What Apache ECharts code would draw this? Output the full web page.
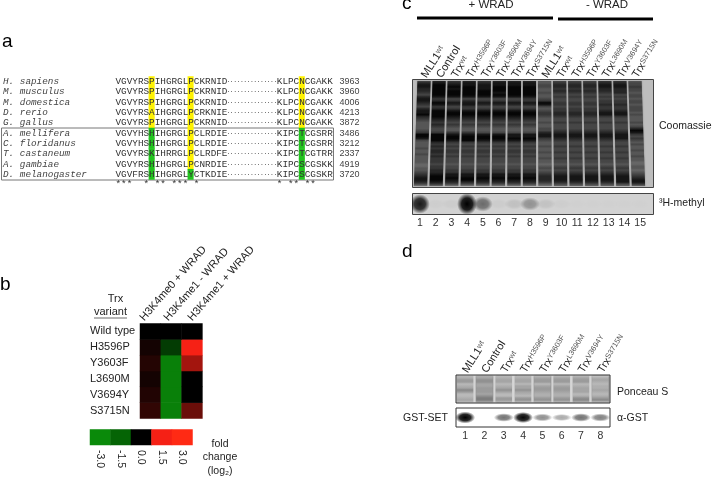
<!DOCTYPE html>
<html>
<head>
<meta charset="utf-8">
<title>Trx variants</title>
<style>
  html, body { margin: 0; padding: 0; background: #fff; }
  #chart { width: 713px; height: 477px; }
</style>
<script src="https://cdn.jsdelivr.net/npm/echarts@6/dist/echarts.min.js"></script>
</head>
<body>
<div id="chart"></div>
<script>
// --- panel a: alignment ---
const species = ['H. sapiens', 'M. musculus', 'M. domestica', 'D. rerio', 'G. gallus',
  'A. mellifera', 'C. floridanus', 'T. castaneum', 'A. gambiae', 'D. melanogaster', '']
const residueEnds = ['3963', '3960', '4006', '4213', '3872', '3486', '3212', '2337', '4919', '3720', '']
const seqLeft = ['VGVYRSPIHGRGLPCKRNID', 'VGVYRSPIHGRGLPCKRNID', 'VGVYRSPIHGRGLPCKRNID', 'VGVYRSAIHGRGLPCRKNIE',
  'VGVYRSPIHGRGLPCKRNID', 'VGVYHSHIHGRGLPCLRDIE', 'VGVYHSHIHGRGLPCLRDIE', 'VGVYRSKIHRRGLPCLRDFE',
  'VGVYRSHIHGRGLPCNRDIE', 'VGVFRSHIHGRGLYCTKDIE', '***  * ** *** *']
const seqRight = ['KLPCNCGAKK', 'KLPCNCGAKK', 'KLPCNCGAKK', 'KLPCNCGAKK', 'KLPCNCGAKK',
  'KIPCTCGSRR', 'KIPCTCGSRR', 'KIPCTCGTRR', 'KIPCSCGSKK', 'KIPCSCGSKR', '* ** **']
const alignColumns = Array.from({ length: 39 }, (_, i) => String(i))
// column, first row, last row, colour kind (1 yellow, 2 green)
const highlightRuns = [[6, 0, 4, 1], [6, 5, 9, 2], [13, 0, 8, 1], [13, 9, 9, 2], [33, 0, 4, 1], [33, 5, 9, 2]]

// --- panel b: heatmap ---
const variants = ['S3715N', 'V3694Y', 'L3690M', 'Y3603F', 'H3596P', 'Wild type']
const conditions = ['H3K4me0 + WRAD', 'H3K4me1 - WRAD', 'H3K4me1 + WRAD']
const me0Plus = [0.3, 0.2, 0.12, 0.22, 0.12, 0]
const me1Minus = [-2.6, -2.6, -2.6, -2.6, -0.9, 0]
const me1Plus = [0.65, 0, 0, 1.0, 1.6, 0]
const scaleTicks = ['-3.0', '-1.5', '0.0', '1.5', '3.0']
const scaleValues = [-3, -1.5, 0, 1.5, 3]

// --- panel c: gel ---
const gelLanes = ['MLL1|wt', 'Control|', 'Trx|wt', 'Trx|H3596P', 'Trx|Y3603F', 'Trx|L3690M', 'Trx|V3694Y', 'Trx|S3715N',
  'MLL1|wt', 'Trx|wt', 'Trx|H3596P', 'Trx|Y3603F', 'Trx|L3690M', 'Trx|V3694Y', 'Trx|S3715N']
const gelNumbers = ['1', '2', '3', '4', '5', '6', '7', '8', '9', '10', '11', '12', '13', '14', '15']
// darkness 0-9 from the top of the gel to the bottom, one string per lane
const coomassie = [
  '5788776578 8765788976 5444456998 5444544544 4433445678 8752',
  '7899999986 7986799998 7676556999 9767677676 6656677899 9863',
  '6789899985 6875689987 6565446899 8656566565 5545566889 8752',
  '7889999985 7886689987 6565446899 9656566565 5545566889 9752',
  '6788899985 6875689987 6565445899 8656566565 5545566889 8752',
  '7889998985 6875689987 6565445899 8656566565 5545566889 8752',
  '7889999985 6875689987 6565445889 8656566565 5545566889 8752',
  '7889999986 6875689987 6565445889 8656566565 5545566889 8752',
  '4455445445 6985456654 4544557886 5445445445 4434545677 7642',
  '5677676565 5665667765 5655567887 6556556556 5545656788 8753',
  '5677676565 5665667765 5655567887 6556556556 5545656788 8753',
  '5677676565 5665667765 5655567887 6556556556 5545656788 8753',
  '6788776565 6676678865 5655567887 6556556556 5545656788 8753',
  '6788777565 6676678865 5655567888 6556556556 5545656788 8853',
  '4556554554 5545554544 4545798656 5454454454 4334434567 8863'
]
const methylSignal = [0.8, 0.02, 0.03, 1, 0.45, 0.03, 0.08, 0.28, 0.07, 0.02, 0.01, 0.01, 0.01, 0.01, 0.01]

// --- panel d: western ---
const blotLanes = ['MLL1|wt', 'Control|', 'Trx|wt', 'Trx|H3596P', 'Trx|Y3603F', 'Trx|L3690M', 'Trx|V3694Y', 'Trx|S3715N']
const blotNumbers = ['1', '2', '3', '4', '5', '6', '7', '8']
const ponceau = ['23552347522342', '34664455546884', '23442346422552', '23442446432562',
  '24552455433562', '24552455433562', '24552344423673', '13432334323572']
const gstSignal = [1, 0, 0.5, 0.88, 0.4, 0.3, 0.5, 0.45]

const FONT = '"Liberation Sans", Arial, sans-serif'
const MONO = '"Liberation Mono", monospace'

// rotated lane labels, name with superscript
const laneLabel = (size) => ({
  show: true,
  interval: 0,
  rotate: 58,
  margin: 3,
  color: '#222',
  formatter: (v) => {
    const [n, s] = v.split('|')
    return s ? `{n|${n}}{s|${s}}` : `{n|${n}}`
  },
  rich: {
    n: { fontFamily: FONT, fontSize: size, color: '#222' },
    s: { fontFamily: FONT, fontSize: 7.5, color: '#555', verticalAlign: 'top' }
  }
})

const numberLabel = { show: true, interval: 0, margin: 4, color: '#333', fontFamily: FONT, fontSize: 10.5 }
const noLine = { axisLine: { show: false }, axisTick: { show: false }, splitLine: { show: false } }

// a lane of the gel: one polygon with the band profile as gradient
const laneRender = (profiles, light, step, widthRatio, fan) => (params, api) => {
  const i = params.dataIndex
  const text = profiles[i].replace(/ /g, '')
  const top = api.coord([i, 1])
  const bottom = api.coord([i, 0])
  const half = api.size([1, 0])[0] * widthRatio / 2
  const off = (i - (profiles.length - 1) / 2) * fan
  const stops = text.split('').map((d, k) => {
    const g = Math.round(light - step * Number(d))
    return { offset: k / (text.length - 1), color: `rgb(${g},${g},${g})` }
  })
  return {
    type: 'polygon',
    shape: {
      points: [
        [top[0] - half, top[1] + 1],
        [top[0] + half, top[1] + 1],
        [bottom[0] + half + off, bottom[1] - 1],
        [bottom[0] - half + off, bottom[1] - 1]
      ]
    },
    style: {
      fill: new echarts.graphic.LinearGradient(0, 0, 0, 1, stops),
      shadowBlur: 1.5,
      shadowColor: 'rgba(60,60,60,0.6)'
    }
  }
}

// a blurred radioactive / antibody band
const bandRender = (signals, rx, ry0, ry1, gain) => (params, api) => {
  const i = params.dataIndex
  const v = signals[i]
  if (v <= 0) return null
  const c = api.coord([i, 0.5])
  const a = Math.min(1, v * gain)
  return {
    type: 'circle',
    shape: { cx: 0, cy: 0, r: 1 },
    x: c[0],
    y: c[1],
    scaleX: rx,
    scaleY: ry0 + ry1 * v,
    style: {
      fill: new echarts.graphic.RadialGradient(0, 0, 1, [
        { offset: 0, color: `rgba(0,0,0,${a})` },
        { offset: 0.55, color: `rgba(0,0,0,${a * 0.85})` },
        { offset: 1, color: 'rgba(0,0,0,0)' }
      ], true)
    }
  }
}

// alignment text pieces: column, row, string, font size
const alignPieces = []
species.forEach((_, r) => {
  alignPieces.push([0, r, seqLeft[r], 9.33])
  alignPieces.push([29, r, seqRight[r], 9.33])
  if (r < 10) alignPieces.push([20, r, '···············', 5.6])
})
const highlightCells = []
highlightRuns.forEach(([c, a, b, kind]) => {
  for (let r = a; r <= b; r++) highlightCells.push({ value: [c, r, kind], itemStyle: { color: kind === 1 ? '#fff200' : '#22c41e' } })
})

const heatCells = []
variants.forEach((_, r) => {
  heatCells.push([0, r, me0Plus[r]], [1, r, me1Minus[r]], [2, r, me1Plus[r]])
})

const txt = (text, x, y, fontSize, extra) => ({
  type: 'text',
  x,
  y,
  silent: true,
  style: Object.assign({ text, fontFamily: FONT, fontSize, fill: '#222', textVerticalAlign: 'middle' }, extra || {})
})
const box = (x, y, width, height, fill, stroke) => ({
  type: 'rect',
  silent: true,
  shape: { x, y, width, height },
  style: { fill, stroke, lineWidth: 1 }
})
const bar = (x1, x2, y) => ({
  type: 'line',
  silent: true,
  shape: { x1, y1: y, x2, y2: y },
  style: { stroke: '#000', lineWidth: 3 }
})

const option = {
  animation: false,
  backgroundColor: '#fff',
  graphic: [
    txt('a', 2, 42, 19, { fill: '#000' }),
    txt('b', 0, 285, 19, { fill: '#000' }),
    txt('c', 402, 4, 19, { fill: '#000' }),
    txt('d', 402, 252, 19, { fill: '#000' }),
    box(1.5, 128, 332, 52, 'transparent', '#777'),
    txt('Trx', 115.5, 299, 11, { textAlign: 'center' }),
    txt('variant', 110.5, 312, 11, { textAlign: 'center' }),
    { type: 'line', silent: true, shape: { x1: 94, y1: 318, x2: 127, y2: 318 }, style: { stroke: '#444', lineWidth: 0.8 } },
    txt('fold', 220, 444, 10.5, { textAlign: 'center' }),
    txt('change', 220, 457.5, 10.5, { textAlign: 'center' }),
    txt('(log₂)', 220, 471, 10.5, { textAlign: 'center' }),
    txt('+ WRAD', 491, 5, 11.5, { textAlign: 'center' }),
    txt('- WRAD', 607, 5, 11.5, { textAlign: 'center' }),
    bar(417, 553, 18),
    bar(558, 653, 19),
    box(412.5, 79.5, 241, 108, '#bdbdbd', '#444'),
    box(412.5, 193.5, 241, 21, '#d2d2d2', '#444'),
    txt('Coomassie', 659, 126, 10.5),
    txt('³H-methyl', 659, 203, 10.5),
    box(456, 375, 154, 28, '#d6d6d6', '#333'),
    box(456, 408, 154, 19, '#fff', '#333'),
    txt('Ponceau S', 617, 392, 10.5),
    txt('α-GST', 617, 418, 10.5),
    txt('GST-SET', 403, 418, 10.5)
  ],
  visualMap: {
    show: false,
    seriesIndex: [2, 3],
    dimension: 2,
    min: -3,
    max: 3,
    inRange: { color: ['#0a8a0a', '#056405', '#000000', '#f52015', '#ff2a14'] }
  },
  grid: [
    { left: 114, top: 76.5, width: 218.4, height: 113.3 },
    { left: 140, top: 323.5, width: 62.4, height: 95 },
    { left: 90, top: 429.5, width: 102.5, height: 15.5 },
    { left: 416.5, top: 80, width: 226, height: 107 },
    { left: 412, top: 194, width: 236, height: 20 },
    { left: 455.5, top: 375, width: 154.5, height: 28 },
    { left: 455.5, top: 408, width: 154.5, height: 19 },
    // only carries the slanted condition labels of panel b
    { left: 130, top: 323.5, width: 72, height: 10 }
  ],
  xAxis: [
    { gridIndex: 0, type: 'category', data: alignColumns, show: false },
    { gridIndex: 1, type: 'category', data: conditions, show: false },
    { gridIndex: 2, type: 'category', data: scaleTicks, position: 'bottom', ...noLine,
      axisLabel: { interval: 0, rotate: -90, margin: 5, color: '#222', fontFamily: FONT, fontSize: 10.5 } },
    { gridIndex: 3, type: 'category', data: gelLanes, position: 'top', ...noLine, axisLabel: laneLabel(11) },
    { gridIndex: 4, type: 'category', data: gelNumbers, position: 'bottom', ...noLine, axisLabel: numberLabel },
    { gridIndex: 5, type: 'category', data: blotLanes, position: 'top', ...noLine, axisLabel: laneLabel(11) },
    { gridIndex: 6, type: 'category', data: blotNumbers, position: 'bottom', ...noLine, axisLabel: numberLabel },
    { gridIndex: 7, type: 'category', data: conditions, position: 'top', ...noLine,
      axisLabel: { interval: 0, rotate: 49, margin: 4, color: '#222', fontFamily: FONT, fontSize: 11 } }
  ],
  yAxis: [
    { gridIndex: 0, type: 'category', data: species, inverse: true, ...noLine,
      axisLabel: { interval: 0, margin: 112.5, align: 'left', color: '#444', fontFamily: MONO, fontStyle: 'italic', fontSize: 9.33 } },
    { gridIndex: 0, type: 'category', data: residueEnds, inverse: true, position: 'right', ...noLine,
      axisLabel: { interval: 0, margin: 7, color: '#444', fontFamily: FONT, fontSize: 9 } },
    { gridIndex: 1, type: 'category', data: variants, ...noLine,
      axisLabel: { interval: 0, margin: 50, align: 'left', color: '#222', fontFamily: FONT, fontSize: 11 } },
    { gridIndex: 2, type: 'category', data: [''], show: false },
    { gridIndex: 3, type: 'value', min: 0, max: 1, show: false },
    { gridIndex: 4, type: 'value', min: 0, max: 1, show: false },
    { gridIndex: 5, type: 'value', min: 0, max: 1, show: false },
    { gridIndex: 6, type: 'value', min: 0, max: 1, show: false },
    { gridIndex: 7, type: 'value', min: 0, max: 1, show: false }
  ],
  series: [
    // 0: alignment highlights
    { type: 'heatmap', xAxisIndex: 0, yAxisIndex: 0, data: highlightCells, z: 1 },
    // 1: alignment text
    {
      type: 'custom',
      xAxisIndex: 0,
      yAxisIndex: 0,
      data: alignPieces.map((p) => [p[0], p[1]]),
      z: 3,
      renderItem: (params, api) => {
        const p = alignPieces[params.dataIndex]
        const c = api.coord([p[0], p[1]])
        return {
          type: 'text',
          x: c[0] - api.size([1, 0])[0] / 2,
          y: c[1],
          style: { text: p[2], fontFamily: MONO, fontSize: p[3], fill: '#333', textVerticalAlign: 'middle' }
        }
      }
    },
    // 2: heatmap
    { type: 'heatmap', xAxisIndex: 1, yAxisIndex: 2, data: heatCells },
    // 3: colour scale
    { type: 'heatmap', xAxisIndex: 2, yAxisIndex: 3, data: scaleValues.map((v, i) => [i, 0, v]) },
    // 4: coomassie lanes
    {
      type: 'custom',
      xAxisIndex: 3,
      yAxisIndex: 4,
      data: coomassie.map((_, i) => [i, 0.5]),
      renderItem: laneRender(coomassie, 150, 16, 0.88, 0.5)
    },
    // 5: 3H-methyl signal
    {
      type: 'custom',
      xAxisIndex: 4,
      yAxisIndex: 5,
      clip: true,
      data: methylSignal.map((v, i) => [i, 0.5]),
      renderItem: bandRender(methylSignal, 10, 5, 6, 1.1)
    },
    // 6: ponceau lanes
    {
      type: 'custom',
      xAxisIndex: 5,
      yAxisIndex: 6,
      data: ponceau.map((_, i) => [i, 0.5]),
      renderItem: laneRender(ponceau, 205, 10, 0.85, 0)
    },
    // 7: anti-GST signal
    {
      type: 'custom',
      xAxisIndex: 6,
      yAxisIndex: 7,
      clip: true,
      data: gstSignal.map((v, i) => [i, 0.5]),
      renderItem: bandRender(gstSignal, 10, 2.5, 3.5, 1.1)
    }
  ]
}

const chart = echarts.init(document.getElementById('chart'), null, { renderer: 'canvas' })
chart.setOption(option)
</script>
</body>
</html>
